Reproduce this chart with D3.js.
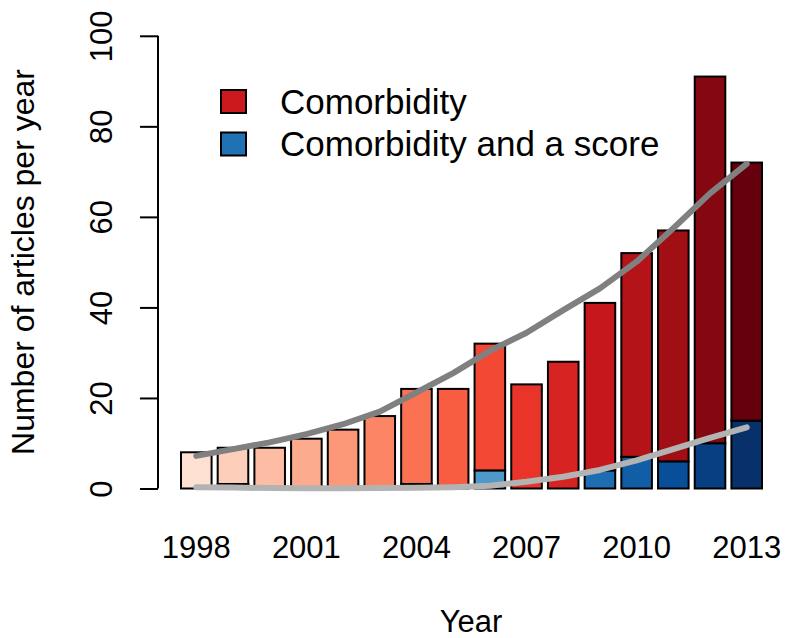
<!DOCTYPE html>
<html>
<head>
<meta charset="utf-8">
<script src="https://cdn.jsdelivr.net/npm/d3@7"></script>
<style>
  html, body { margin: 0; padding: 0; background: #fff; }
  svg text { font-family: "Liberation Sans", Arial, Helvetica, sans-serif; fill: #000; }
</style>
</head>
<body>
<svg id="chart" width="785" height="638"></svg>
<script>
// ---- data ----
const years = [1998, 1999, 2000, 2001, 2002, 2003, 2004, 2005, 2006, 2007, 2008, 2009, 2010, 2011, 2012, 2013];
const comorbidity = [8, 9, 9, 11, 13, 16, 22, 22, 32, 23, 28, 41, 52, 57, 91, 72];
const withScore = [0, 1, 0, 0, 0, 0, 1, 0, 4, 0, 0, 4, 7, 6, 10, 15];
const trendComorbidity = [7.2, 8.7, 10.2, 12.0, 14.2, 17.0, 21.2, 25.5, 30.4, 34.4, 39.4, 44.2, 50.1, 57.5, 65.2, 71.7];
const trendScore = [0.3, 0.2, 0.1, 0.05, 0.05, 0.1, 0.15, 0.3, 0.6, 1.5, 2.6, 4.1, 6.2, 8.7, 11.2, 13.5];
const xTickYears = [1998, 2001, 2004, 2007, 2010, 2013];
const yTicks = [0, 20, 40, 60, 80, 100];
const legendLabels = ["Comorbidity", "Comorbidity and a score"];

const redsBase = ["#FEE0D2", "#FCBBA1", "#FC9272", "#FB6A4A", "#EF3B2C", "#CB181D", "#A50F15", "#67000D"];
const bluesBase = ["#DEEBF7", "#C6DBEF", "#9ECAE1", "#6BAED6", "#4292C6", "#2171B5", "#08519C", "#08306B"];
const legendColors = ["#CB181D", "#2171B5"];

// ---- scales ----
const svg = d3.select("#chart");
const n = years.length;
const pad = 0.2 / 1.2;
const x = d3.scaleBand().domain(years).range([181, 762]).paddingInner(pad).paddingOuter(0);
const y = d3.scaleLinear().domain([0, 100]).range([488.5, 35.8]);

const redRamp = d3.piecewise(d3.interpolateRgb, redsBase);
const blueRamp = d3.piecewise(d3.interpolateRgb, bluesBase);
const redCol = years.map((d, i) => redRamp(i / (n - 1)));
const blueCol = years.map((d, i) => blueRamp(i / (n - 1)));

const data = years.map((yr, i) => ({ yr, total: comorbidity[i], score: withScore[i], i }));

// ---- bars ----
const g = svg.append("g");
g.selectAll("rect.score").data(data).join("rect")
  .attr("class", "score")
  .attr("x", d => x(d.yr)).attr("width", x.bandwidth())
  .attr("y", d => y(d.score)).attr("height", d => y(0) - y(d.score))
  .attr("fill", d => blueCol[d.i]).attr("stroke", "#000").attr("stroke-width", 2);
g.selectAll("rect.red").data(data).join("rect")
  .attr("class", "red")
  .attr("x", d => x(d.yr)).attr("width", x.bandwidth())
  .attr("y", d => y(d.total)).attr("height", d => y(d.score) - y(d.total))
  .attr("fill", d => redCol[d.i]).attr("stroke", "#000").attr("stroke-width", 2);

// ---- trend lines ----
const cx = yr => x(yr) + x.bandwidth() / 2;
const line = d3.line().x((d, i) => cx(years[i])).y(d => y(d));
svg.append("path").datum(trendComorbidity).attr("d", line)
  .attr("fill", "none").attr("stroke", "#808080").attr("stroke-width", 6)
  .attr("stroke-linecap", "round").attr("stroke-linejoin", "round");
svg.append("path").datum(trendScore).attr("d", line)
  .attr("fill", "none").attr("stroke", "#b3b3b3").attr("stroke-width", 6)
  .attr("stroke-linecap", "round").attr("stroke-linejoin", "round");

// ---- y axis ----
const yAxis = d3.axisLeft(y).tickValues(yTicks).tickSize(18).tickPadding(0).tickFormat(d3.format("d"));
const ya = svg.append("g").attr("transform", "translate(158,0)").call(yAxis);
ya.select(".domain").attr("stroke", "#000").attr("stroke-width", 2).attr("d", `M0,${y(0)}V${y(100)}`);
ya.selectAll(".tick line").attr("stroke", "#000").attr("stroke-width", 2);
ya.selectAll(".tick text")
  .attr("x", null).attr("dy", null)
  .attr("text-anchor", "middle")
  .attr("transform", "translate(-46,0) rotate(-90)")
  .attr("font-size", 31).attr("fill", "#000");

// ---- x tick labels ----
svg.append("g").selectAll("text").data(xTickYears).join("text")
  .attr("x", d => cx(d)).attr("y", 558)
  .attr("text-anchor", "middle").attr("font-size", 31)
  .text(d => d);

// ---- axis titles ----
svg.append("text").attr("x", 471).attr("y", 632).attr("text-anchor", "middle")
  .attr("font-size", 31).text("Year");
svg.append("text").attr("transform", "translate(34,262) rotate(-90)").attr("text-anchor", "middle")
  .attr("font-size", 32).text("Number of articles per year");

// ---- legend ----
const lg = svg.append("g");
legendLabels.forEach((lab, i) => {
  const cy = 101.5 + i * 42.5;
  lg.append("rect").attr("x", 221).attr("y", cy - 11.5).attr("width", 25).attr("height", 23)
    .attr("fill", legendColors[i]).attr("stroke", "#000").attr("stroke-width", 2);
  lg.append("text").attr("x", 280).attr("y", cy + 12).attr("font-size", 35).text(lab);
});
</script>
</body>
</html>
